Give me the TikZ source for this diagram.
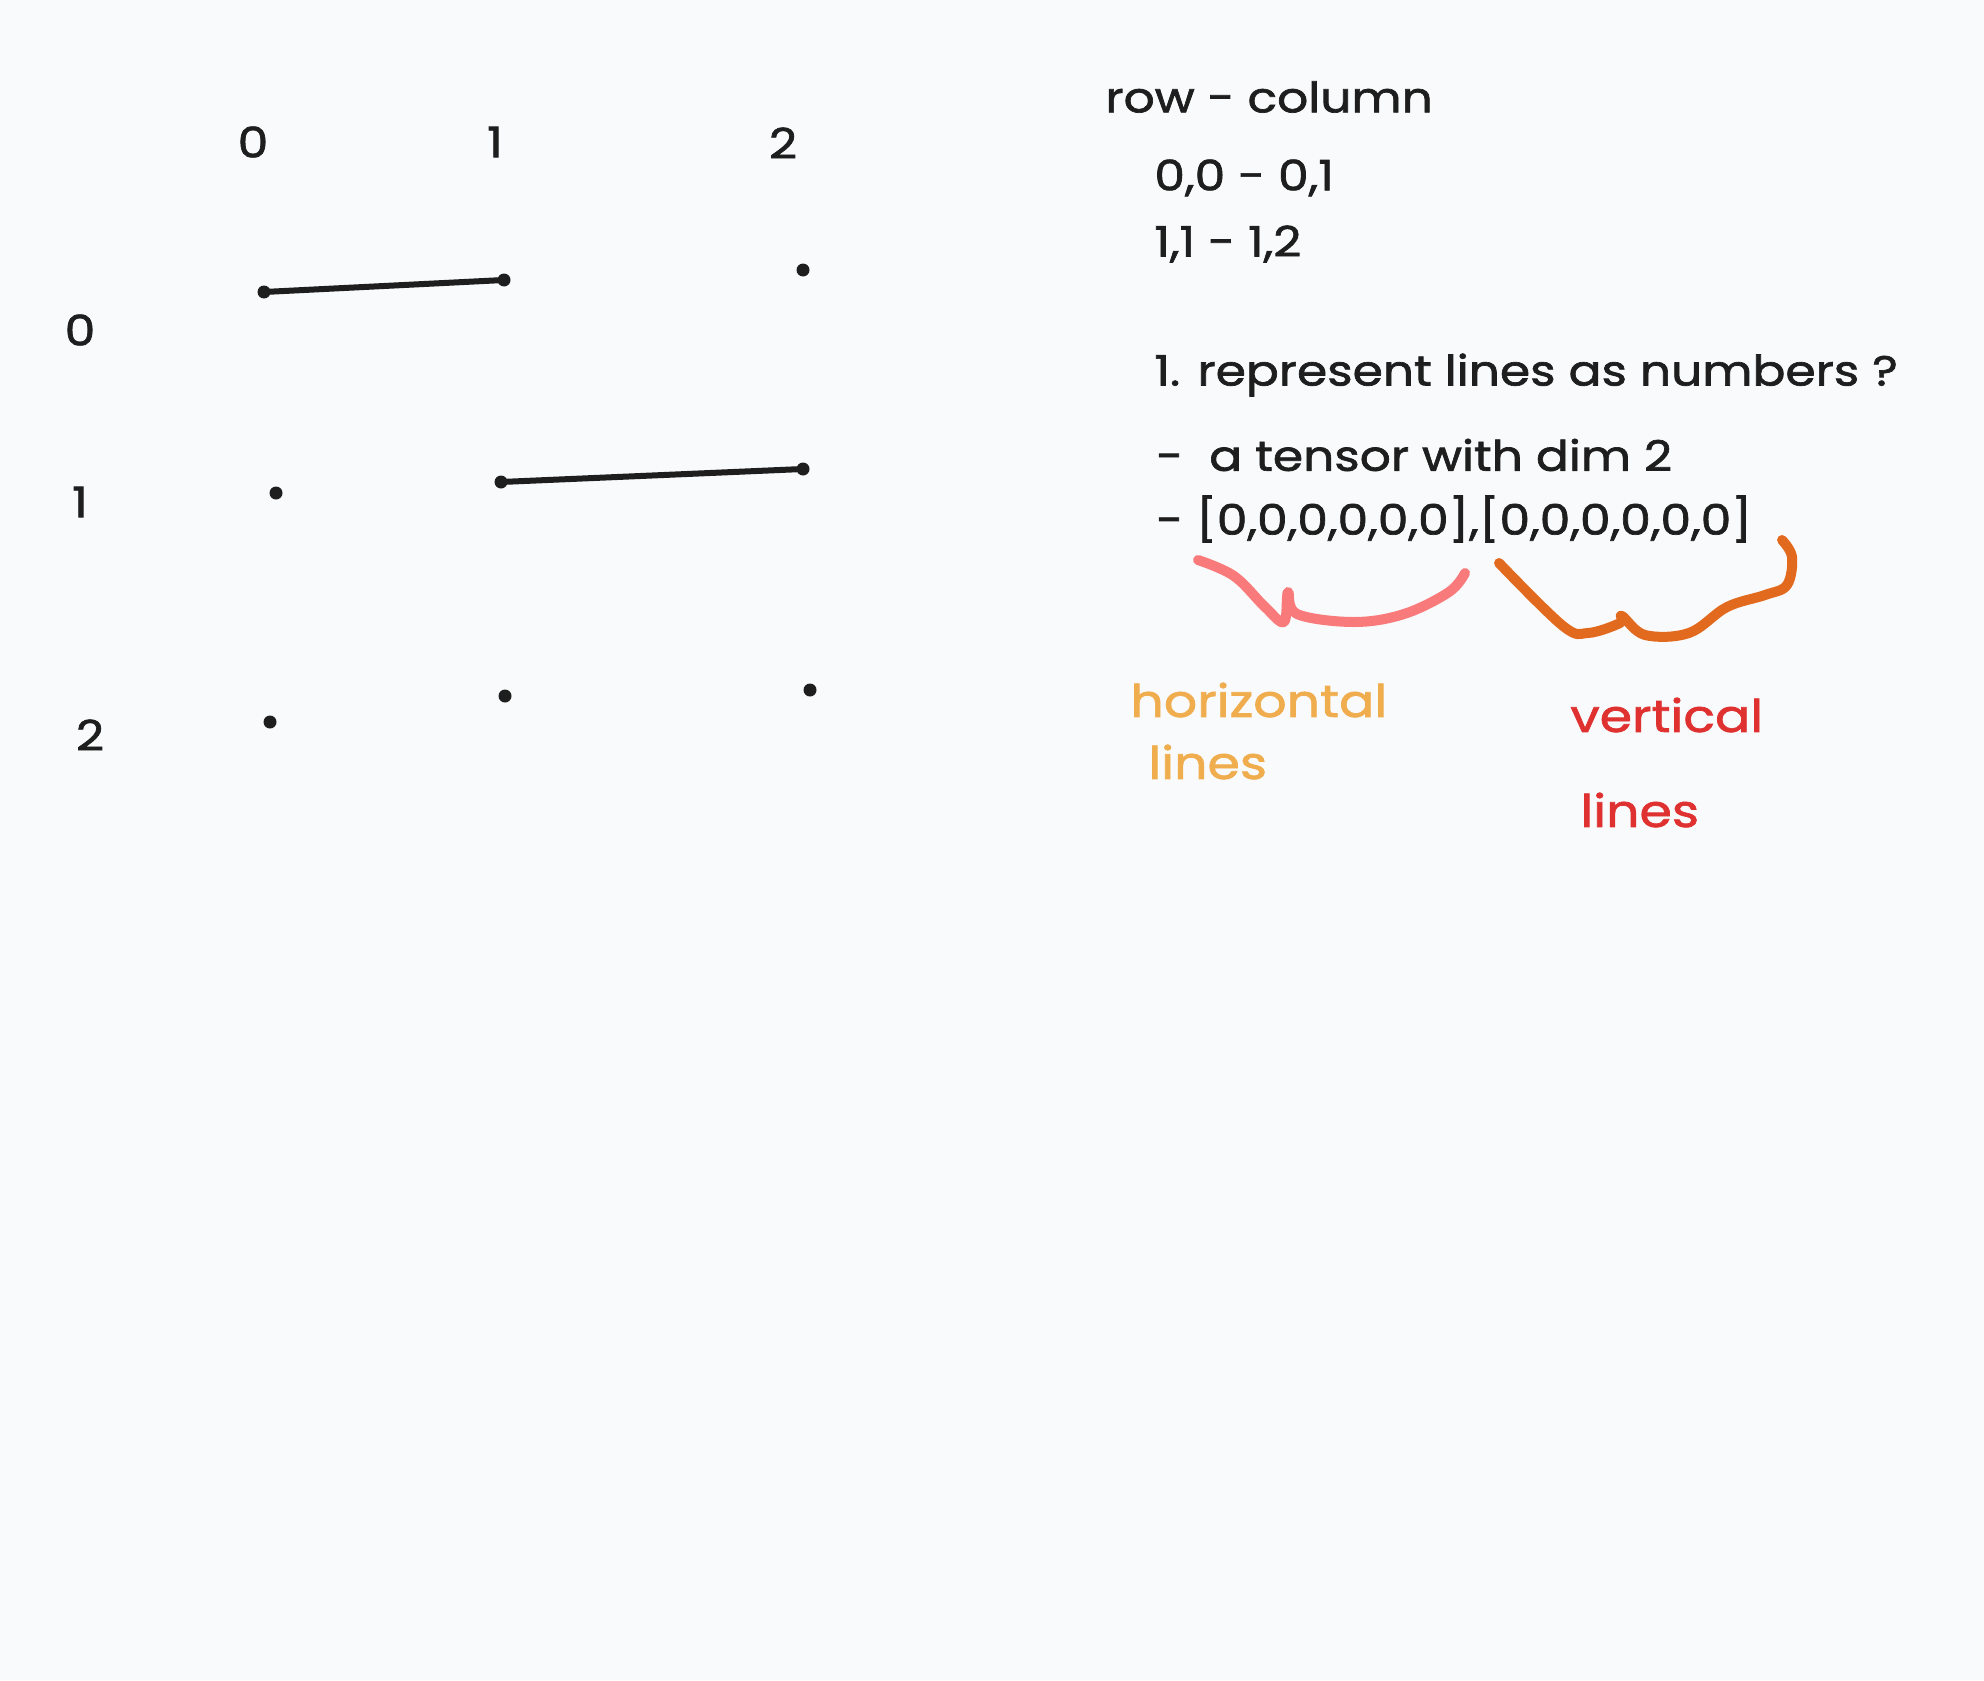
\documentclass[tikz,border=0pt]{standalone}
\usepackage{fontspec}
\setmainfont{Poppins}[FakeStretch=1.16, FakeBold=1.6]
\usetikzlibrary{positioning}
\definecolor{paper}{RGB}{249,250,251}
\definecolor{ink}{RGB}{30,30,30}
\definecolor{hcol}{RGB}{240,173,78}
\definecolor{vcol}{RGB}{224,49,49}
\definecolor{pinkbr}{RGB}{248,122,122}
\definecolor{orangebr}{RGB}{226,106,30}

\tikzset{
  gridpt/.style={circle, fill=ink, inner sep=0pt, minimum size=6.5pt},
  numlbl/.style={text=ink, font=\fontsize{21}{25}\selectfont},
  note/.style={anchor=west, inner xsep=0pt, text=ink, font=\fontsize{21}{25}\selectfont},
  tag/.style={anchor=west, inner xsep=0pt, font=\fontsize{22.5}{26}\selectfont},
  link/.style={draw=ink, line width=3pt, line cap=round},
  brace/.style={line width=5pt, line cap=round, line join=round},
}

\begin{document}
\begin{tikzpicture}[x=0.5pt, y=-0.5pt]

\fill[paper] (0,0) rectangle (1984,1680);

% column and row numbers
\node[numlbl] (c0) at (253,142) {0};
\node[numlbl] (c1) at (495,142) {1};
\node[numlbl] (c2) at (783,143) {2};
\node[numlbl] (r0) at (80,330) {0};
\node[numlbl] (r1) at (80,502) {1};
\node[numlbl] (r2) at (90,735) {2};

% grid points
\node[gridpt] (d00) at (264,292) {};
\node[gridpt] (d01) at (504,280) {};
\node[gridpt] (d02) at (803,270) {};
\node[gridpt] (d10) at (276,493) {};
\node[gridpt] (d11) at (501,482) {};
\node[gridpt] (d12) at (803,469) {};
\node[gridpt] (d20) at (270,722) {};
\node[gridpt] (d21) at (505,696) {};
\node[gridpt] (d22) at (810,690) {};

\draw[link] (d00.center) -- (d01.center);
\draw[link] (d11.center) -- (d12.center);

% notes
\node[note] (rc) at (1105,97) {row - column};
\node[note] (p1) at (1154,178) {0,0 - 0,1};
\node[note] (p2) at (1154,244) {1,1 - 1,2};
\node[note] (q1) at (1154,375) {1. represent lines as numbers ?};
\node[note] (q2) at (1156,455) {-\ \ a tensor with dim 2};
\node[note] (q3) at (1156,519) {- [0,0,0,0,0,0],[0,0,0,0,0,0]};

\node[tag, text=hcol] (hz1) at (1130,700) {horizontal};
\node[tag, text=hcol] (hz2) at (1148,762) {lines};
\node[tag, text=vcol] (vt1) at (1570,715) {vertical};
\node[tag, text=vcol] (vt2) at (1580,810) {lines};

% braces
\draw[brace, pinkbr] plot[smooth, tension=0.6] coordinates {(1198,560) (1234,576) (1265,607) (1284,622) (1288,592) (1297,614) (1354,622) (1404,614) (1449,592) (1465,573)};
\draw[brace, orangebr] plot[smooth, tension=0.6] coordinates {(1499,563) (1563,626) (1588,633) (1620,623) (1622,616) (1645,635) (1689,633) (1727,607) (1765,595) (1787,585) (1792,557) (1782,540)};

\end{tikzpicture}
\end{document}
